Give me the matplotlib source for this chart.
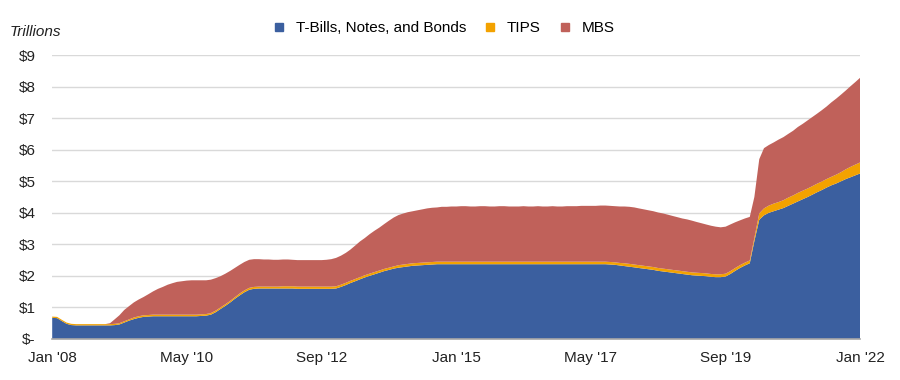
import pandas as pd
import matplotlib
matplotlib.use("Agg")
import matplotlib.pyplot as plt
from matplotlib.lines import Line2D

plt.rcParams['font.family'] = ['Liberation Sans', 'DejaVu Sans']

# monthly, Jan 2008 .. Jan 2022 (trillions of $)
treasuries = [
    .67, .66, .57, .48, .44, .43, .43, .43, .43, .43, .43, .43,            # 2008
    .43, .44, .46, .52, .58, .63, .67, .70, .71, .72, .72, .72,            # 2009
    .72, .72, .72, .72, .72, .72, .72, .73, .74, .77, .85, .95,            # 2010
    1.05, 1.16, 1.27, 1.38, 1.48, 1.56, 1.59, 1.60, 1.60, 1.60, 1.60, 1.60,  # 2011
    1.60, 1.60, 1.60, 1.59, 1.59, 1.59, 1.59, 1.59, 1.59, 1.59, 1.59, 1.60,  # 2012
    1.65, 1.71, 1.77, 1.83, 1.89, 1.95, 2.00, 2.05, 2.10, 2.15, 2.19, 2.23,  # 2013
    2.26, 2.28, 2.30, 2.32, 2.33, 2.34, 2.35, 2.36, 2.37, 2.37, 2.37, 2.37,  # 2014
    2.37, 2.37, 2.37, 2.37, 2.37, 2.37, 2.37, 2.37, 2.37, 2.37, 2.37, 2.37,  # 2015
    2.37, 2.37, 2.37, 2.37, 2.37, 2.37, 2.37, 2.37, 2.37, 2.37, 2.37, 2.37,  # 2016
    2.37, 2.37, 2.37, 2.37, 2.37, 2.37, 2.37, 2.37, 2.36, 2.35, 2.33, 2.31,  # 2017
    2.29, 2.27, 2.25, 2.23, 2.21, 2.19, 2.16, 2.14, 2.12, 2.10, 2.08, 2.06,  # 2018
    2.04, 2.02, 2.01, 2.00, 1.99, 1.97, 1.96, 1.96, 1.98, 2.06, 2.16, 2.25,  # 2019
    2.33, 2.40, 3.10, 3.78, 3.92, 4.00, 4.05, 4.10, 4.15, 4.22, 4.29, 4.36,  # 2020
    4.43, 4.50, 4.57, 4.65, 4.72, 4.80, 4.87, 4.93, 5.00, 5.07, 5.13, 5.19,  # 2021
    5.25,                                                                  # Jan 2022
]
tips = [
    .04, .04, .04, .04, .04, .04, .04, .04, .04, .04, .04, .04,
    .04, .04, .04, .04, .04, .05, .05, .05, .05, .05, .05, .05,
    .05, .05, .05, .05, .05, .05, .05, .05, .05, .05, .05, .05,
    .05, .05, .05, .06, .06, .06, .06, .06, .06, .06, .06, .06,
    .07, .07, .07, .07, .07, .07, .07, .07, .07, .07, .07, .07,
    .07, .07, .07, .07, .07, .07, .07, .07, .07, .07, .07, .07,
    .08, .08, .08, .08, .08, .08, .08, .08, .08, .08, .08, .08,
    .08, .08, .08, .08, .08, .08, .08, .08, .08, .08, .08, .08,
    .08, .08, .08, .08, .08, .08, .08, .08, .08, .08, .08, .08,
    .08, .08, .08, .08, .08, .08, .08, .08, .08, .08, .08, .09,
    .09, .09, .09, .09, .09, .09, .09, .09, .09, .09, .09, .09,
    .09, .09, .09, .09, .09, .09, .09, .09, .09, .09, .09, .09,
    .09, .09, .10, .20, .22, .23, .24, .24, .25, .26, .26, .27,
    .27, .27, .27, .27, .27, .27, .27, .28, .29, .31, .33, .34,
    .35,
]
mbs = [
    0, 0, 0, 0, 0, 0, 0, 0, 0, 0, 0, 0,
    .03, .15, .25, .36, .42, .48, .53, .58, .66, .74, .82, .88,
    .95, 1.00, 1.04, 1.06, 1.08, 1.09, 1.09, 1.08, 1.07, 1.06, 1.03, .99,
    .97, .95, .93, .91, .90, .89, .88, .87, .86, .86, .85, .85,
    .85, .85, .84, .84, .84, .84, .84, .84, .84, .85, .87, .90,
    .92, .95, .99, 1.06, 1.13, 1.18, 1.25, 1.31, 1.36, 1.42, 1.49, 1.55,
    1.59, 1.62, 1.64, 1.65, 1.67, 1.69, 1.71, 1.72, 1.72, 1.74, 1.74, 1.75,
    1.75, 1.76, 1.76, 1.75, 1.75, 1.76, 1.76, 1.75, 1.75, 1.76, 1.76, 1.75,
    1.75, 1.75, 1.76, 1.75, 1.75, 1.76, 1.75, 1.75, 1.76, 1.75, 1.75, 1.76,
    1.76, 1.76, 1.77, 1.77, 1.77, 1.77, 1.78, 1.78, 1.78, 1.78, 1.79, 1.80,
    1.81, 1.81, 1.80, 1.79, 1.78, 1.77, 1.76, 1.75, 1.73, 1.71, 1.69, 1.67,
    1.66, 1.64, 1.61, 1.58, 1.55, 1.53, 1.51, 1.49, 1.49, 1.48, 1.45, 1.42,
    1.40, 1.38, 1.30, 1.72, 1.91, 1.92, 1.94, 1.98, 2.00, 2.02, 2.05, 2.09,
    2.12, 2.16, 2.19, 2.22, 2.26, 2.30, 2.36, 2.41, 2.46, 2.50, 2.56, 2.62,
    2.69,
]
dates = pd.date_range("2008-01-01", "2022-01-01", freq="MS")
tick_dates = pd.to_datetime(["2008-01-01", "2010-05-01", "2012-09-01", "2015-01-01",
                             "2017-05-01", "2019-09-01", "2022-01-01"])
tick_labels = ["Jan '08", "May '10", "Sep '12", "Jan '15", "May '17", "Sep '19", "Jan '22"]
series_names = ["T-Bills, Notes, and Bonds", "TIPS", "MBS"]
colors = ["#3b5f9f", "#f3a200", "#c0615a"]

fig = plt.figure(figsize=(9, 3.8), dpi=100)
ax = fig.add_axes([0.058, 0.108, 0.898, 0.747])

ax.stackplot(dates, treasuries, tips, mbs, colors=colors, linewidth=0, zorder=2)

ax.set_ylim(0, 9)
ax.set_xlim(dates[0], dates[-1])
ax.set_yticks(range(0, 10))
ax.set_yticklabels(["$-"] + ["$%d" % v for v in range(1, 10)])
ax.set_xticks(tick_dates)
ax.set_xticklabels(tick_labels)
ax.tick_params(axis='both', length=0, labelsize=11, colors="#222222")
ax.tick_params(axis='y', pad=12)
ax.tick_params(axis='x', pad=9)
ax.grid(axis='y', color="#d9d9d9", linewidth=1, zorder=0)
ax.set_axisbelow(True)
for s in ['top', 'right', 'left']:
    ax.spines[s].set_visible(False)
ax.spines['bottom'].set_color("#a6a6a6")
ax.spines['bottom'].set_linewidth(1.2)
ax.spines['bottom'].set_zorder(3)

fig.text(0.011, 0.905, "Trillions", fontsize=11, style='italic', color="#222222")

handles = [Line2D([], [], marker='s', linestyle='', markersize=5.5, color=c) for c in colors]
fig.legend(handles, series_names, loc='center', bbox_to_anchor=(0.488, 0.925), ncol=3,
           frameon=False, fontsize=11, handletextpad=0.1, columnspacing=0.55)

fig.savefig("out.png", dpi=100)
